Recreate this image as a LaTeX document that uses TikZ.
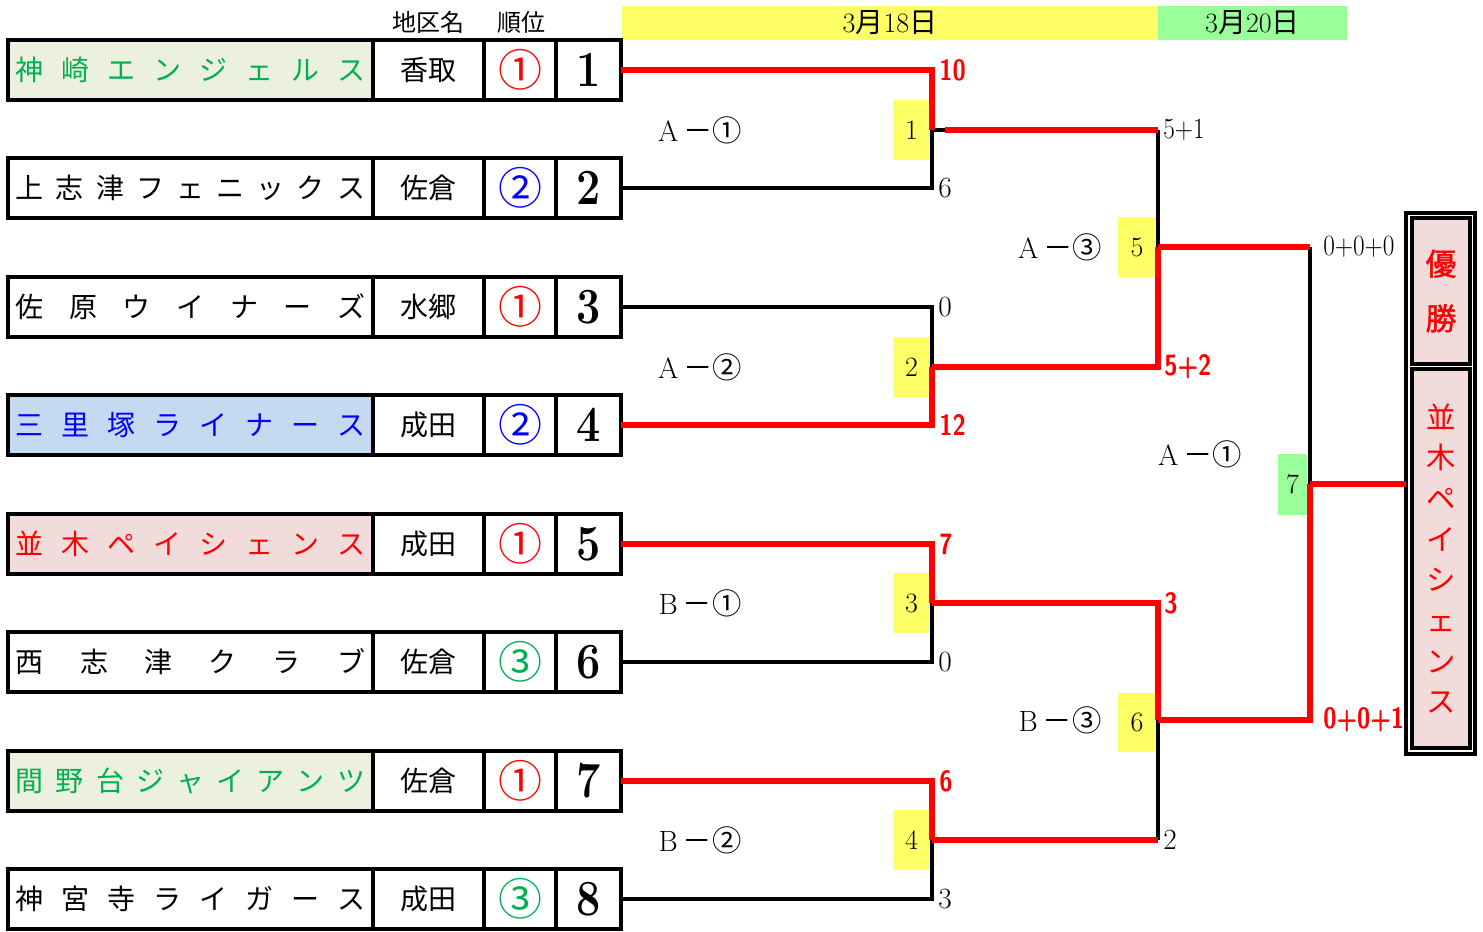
\documentclass[tikz,border=0pt]{standalone}
\usepackage{fontspec}
\newfontfamily\jp{Noto Sans CJK JP}
\newfontfamily\jpb[FakeBold=1.5]{Noto Sans CJK JP}
\definecolor{hdryellow}{HTML}{FFFF66}
\definecolor{hdrgreen}{HTML}{99FF99}
\definecolor{tgreen}{HTML}{00B050}
\definecolor{fgreen}{HTML}{EBF1DE}
\definecolor{fblue}{HTML}{C5D9F1}
\definecolor{tblue}{HTML}{0000FF}
\definecolor{fpink}{HTML}{F2DCDB}
\definecolor{tred}{HTML}{FF0000}
\newcommand\rsc[1]{\scalebox{0.82}[1]{#1}}
\newcommand\bsc[1]{\scalebox{0.86}[1]{#1}}
\newcommand\teamrow[9]{%
  \node[namecell,fill=#3,text=#4] (t#1) at (8,#2) {\hbox to 262pt{#5}};
  \node[regcell] (r#1) at (373,#2) {#6};
  \node[rankcell,text=#7] (k#1) at (484,#2) {#8};
  \node[numcell] (n#1) at (556,#2) {\scalebox{0.85}[1]{#9}};
}
\begin{document}
\begin{tikzpicture}[x=0.75pt,y=-0.75pt,
  cell/.style={draw=black,line width=2.5pt,rectangle,inner sep=0pt,outer sep=0pt,minimum height=45pt,anchor=west},
  namecell/.style={cell,minimum width=273.75pt,font=\jp\fontsize{21}{21}\selectfont},
  regcell/.style={cell,fill=white,minimum width=83.25pt,font=\jp\fontsize{21}{21}\selectfont},
  rankcell/.style={cell,fill=white,minimum width=54pt,font=\jp\fontsize{33}{33}\selectfont},
  numcell/.style={cell,fill=white,minimum width=48.75pt,font=\bfseries\fontsize{38}{38}\selectfont},
  hdr/.style={inner sep=0pt,font=\jp\fontsize{18}{18}\selectfont},
  datebar/.style={inner sep=0pt,minimum height=25.5pt,font=\fontsize{21}{21}\selectfont},
  mbox/.style={fill=hdryellow,inner sep=0pt,minimum width=27.75pt,minimum height=45pt,font=\fontsize{21}{21}\selectfont},
  mlab/.style={inner sep=0pt,font=\fontsize{22}{22}\selectfont},
  scb/.style={anchor=west,inner sep=0pt,font=\fontsize{22}{22}\selectfont},
  scr/.style={anchor=west,inner sep=0pt,text=tred,font=\sffamily\bfseries\fontsize{22}{22}\selectfont},
  blk/.style={line width=2.6pt,black},
  redl/.style={line width=4.2pt,tred},
  winbox/.style={draw=black,line width=2.5pt,inner sep=0pt,outer sep=0pt}
]
\useasboundingbox (0,0) rectangle (1483,931);

% header
\node[hdr] (hreg) at (428,22) {地区名};
\node[hdr] (hrank) at (521,22) {順位};
\node[datebar,fill=hdryellow,minimum width=402pt] (d18) at (890,23) {3{\jp 月}18{\jp 日}};
\node[datebar,fill=hdrgreen,minimum width=141.75pt] (d20) at (1252.5,23) {3{\jp 月}20{\jp 日}};

% teams
\teamrow{1}{70}{fgreen}{tgreen}{神\hfil 崎\hfil エ\hfil ン\hfil ジ\hfil ェ\hfil ル\hfil ス}{香取}{tred}{①}{1}
\teamrow{2}{188}{white}{black}{上\hfil 志\hfil 津\hfil フ\hfil ェ\hfil ニ\hfil ッ\hfil ク\hfil ス}{佐倉}{tblue}{②}{2}
\teamrow{3}{307}{white}{black}{佐\hfil 原\hfil ウ\hfil イ\hfil ナ\hfil ー\hfil ズ}{水郷}{tred}{①}{3}
\teamrow{4}{425}{fblue}{tblue}{三\hfil 里\hfil 塚\hfil ラ\hfil イ\hfil ナ\hfil ー\hfil ス}{成田}{tblue}{②}{4}
\teamrow{5}{544}{fpink}{tred}{並\hfil 木\hfil ペ\hfil イ\hfil シ\hfil ェ\hfil ン\hfil ス}{成田}{tred}{①}{5}
\teamrow{6}{662}{white}{black}{西\hfil 志\hfil 津\hfil ク\hfil ラ\hfil ブ}{佐倉}{tgreen}{③}{6}
\teamrow{7}{781}{fgreen}{tgreen}{間\hfil 野\hfil 台\hfil ジ\hfil ャ\hfil イ\hfil ア\hfil ン\hfil ツ}{佐倉}{tred}{①}{7}
\teamrow{8}{899}{white}{black}{神\hfil 宮\hfil 寺\hfil ラ\hfil イ\hfil ガ\hfil ー\hfil ス}{成田}{tgreen}{③}{8}

% match boxes
\node[mbox] (mb1) at (911.5,130) {1};
\node[mbox] (mb2) at (911.5,367) {2};
\node[mbox] (mb3) at (911.5,603) {3};
\node[mbox] (mb4) at (911.5,840) {4};
\node[mbox,minimum width=28.5pt] (mb5) at (1137,247) {5};
\node[mbox,minimum width=28.5pt,minimum height=44.25pt] (mb6) at (1137,722) {6};
\node[mbox,fill=hdrgreen,minimum width=21.75pt,minimum height=45.75pt] (mb7) at (1292.5,484) {7};

% junctions
\coordinate (j1) at (932,130);
\coordinate (j1s) at (945,130);
\coordinate (j2) at (932,367);
\coordinate (j3) at (932,603);
\coordinate (j4) at (932,840);
\coordinate (j5) at (1158,247);
\coordinate (j6) at (1158,720);
\coordinate (j7) at (1310,484);

% winner boxes
\node[winbox,minimum width=51.75pt,minimum height=405.75pt] (outer) at (1440.5,483.5) {};
\node[winbox,fill=fpink,minimum width=43.5pt,minimum height=109.5pt,align=center,text=tred,font=\jpb\fontsize{23}{41}\selectfont] (yusho) at (1441,291) {優\\勝};
\node[winbox,fill=fpink,minimum width=43.5pt,minimum height=284.25pt,align=center,text=tred,font=\jp\fontsize{22}{30.5}\selectfont] (champ) at (1441,558.5) {並\\木\\ペ\\イ\\シ\\ェ\\ン\\ス};

% black lines
\draw[blk] (n2.east) -| (j1);
\draw[blk] (j1) -- (j1s);
\draw[blk] (n3.east) -| (j2);
\draw[blk] (n6.east) -| (j3);
\draw[blk] (n8.east) -| (j4);
\draw[blk] (j1 -| j5) -- (j5);
\draw[blk] (j4 -| j6) -- (j6);
\draw[blk] (j5 -| j7) -- (j7);

% red lines
\draw[redl] (n1.east) -| (j1);
\draw[redl] (j1s) -- (j1 -| j5);
\draw[redl] (n4.east) -| (j2);
\draw[redl] (j2) -| (j5);
\draw[redl] (n5.east) -| (j3);
\draw[redl] (j3) -| (j6);
\draw[redl] (n7.east) -| (j4);
\draw[redl] (j4) -- (j4 -| j6);
\draw[redl] (j5) -- (j5 -| j7);
\draw[redl] (j6) -| (j7);
\draw[redl] (j7) -- (j7 -| outer.west);

% scores
\node[scr] (s1a) at (939,70) {\rsc{10}};
\node[scb] (s1b) at (938,188) {6};
\node[scb] (s2a) at (938,307) {0};
\node[scr] (s2b) at (939,425) {\rsc{12}};
\node[scr] (s3a) at (939,544) {\rsc{7}};
\node[scb] (s3b) at (938,662) {0};
\node[scr] (s4a) at (939,781) {\rsc{6}};
\node[scb] (s4b) at (938,899) {3};
\node[scb] (s5a) at (1163,130) {\bsc{5+1}};
\node[scr] (s5b) at (1164,367) {\rsc{5+2}};
\node[scr] (s6a) at (1164,603) {\rsc{3}};
\node[scb] (s6b) at (1163,840) {2};
\node[scb] (s7a) at (1323,247) {\bsc{0+0+0}};
\node[scr] (s7b) at (1323,720) {\rsc{0+0+1}};

% match labels
\node[mlab] (l1) at (700,130) {A\,{\jp －①}};
\node[mlab] (l2) at (700,367) {A\,{\jp －②}};
\node[mlab] (l3) at (700,603) {B\,{\jp －①}};
\node[mlab] (l4) at (700,840) {B\,{\jp －②}};
\node[mlab] (l5) at (1060,247) {A\,{\jp －③}};
\node[mlab] (l6) at (1060,720) {B\,{\jp －③}};
\node[mlab] (l7) at (1200,454) {A\,{\jp －①}};
\end{tikzpicture}
\end{document}
